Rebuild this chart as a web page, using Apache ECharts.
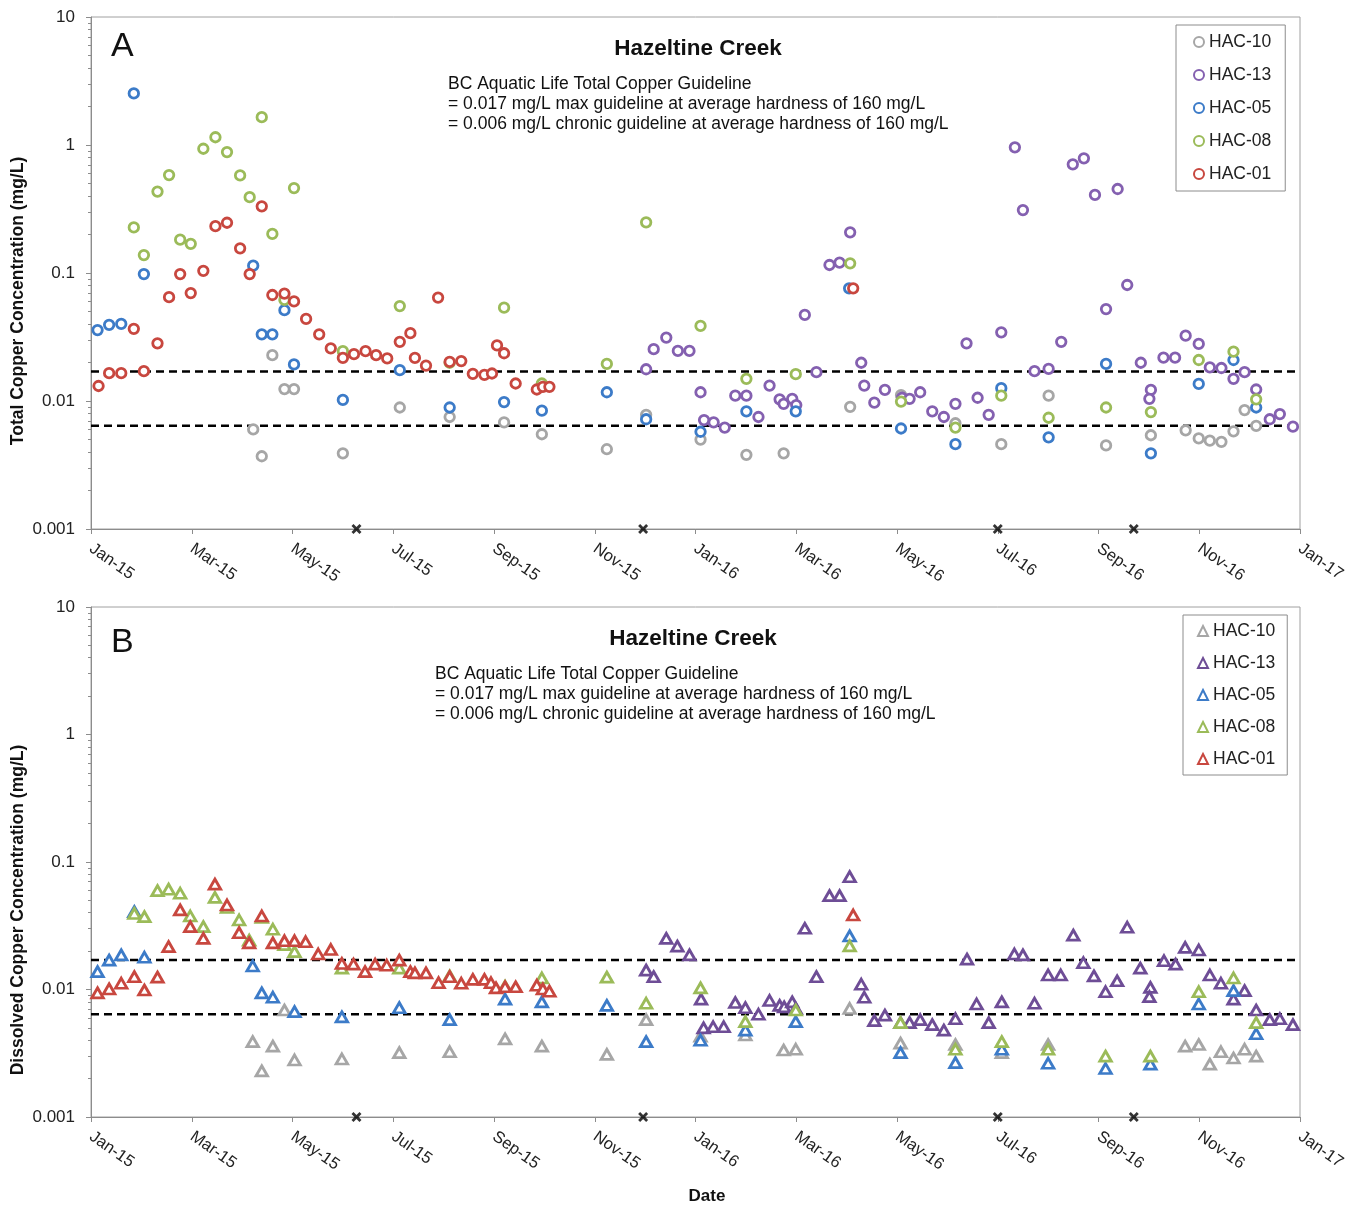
<!DOCTYPE html>
<html>
<head>
<meta charset="utf-8">
<script src="https://cdn.jsdelivr.net/npm/echarts@6/dist/echarts.min.js"></script>
<style>
html,body{margin:0;padding:0;background:#fff}
#main{width:1361px;height:1206px}
</style>
</head>
<body>
<div id="main"></div>
<script>
// x = month index (0 = Jan 2015, 24 = Jan 2017), fraction = day in month
var xTickLabels = ['Jan-15','Mar-15','May-15','Jul-15','Sep-15','Nov-15','Jan-16','Mar-16','May-16','Jul-16','Sep-16','Nov-16','Jan-17'];
var yTickLabels = ['0.001','0.01','0.1','1','10'];
var guideMax = 0.017;
var guideChronic = 0.0064;
var eventMonths = [5.27, 10.96, 18.0, 20.7];
var stations = ['HAC-10','HAC-13','HAC-05','HAC-08','HAC-01'];
var colorsA = ['#a6a6a6','#8460b0','#3c7bc8','#9bbb59','#c8473f'];
var colorsB = ['#a6a6a6','#6e4d96','#3c7bc8','#9bbb59','#c8473f'];

// Panel A - total copper (mg/L)
var total_HAC10 = [[3.22,0.0060],[3.39,0.0037],[3.60,0.0228],[3.84,0.0124],[4.03,0.0124],[5.00,0.0039],[6.13,0.0089],[7.12,0.0075],[8.20,0.0068],[8.95,0.0055],[10.24,0.0042],[11.02,0.0078],[12.10,0.0050],[13.01,0.0038],[13.75,0.0039],[15.07,0.0090],[16.08,0.0111],[17.16,0.0067],[18.07,0.0046],[19.01,0.0110],[20.15,0.0045],[21.04,0.0054],[21.73,0.0059],[21.99,0.0051],[22.21,0.0049],[22.44,0.0048],[22.68,0.0058],[22.90,0.0085],[23.13,0.0064]];
var total_HAC13 = [[11.02,0.0177],[11.17,0.0254],[11.42,0.0313],[11.65,0.0246],[11.88,0.0246],[12.10,0.0117],[12.17,0.0071],[12.36,0.0068],[12.58,0.0062],[12.79,0.0110],[13.01,0.0110],[13.25,0.0075],[13.47,0.0132],[13.67,0.0103],[13.75,0.0095],[13.92,0.0104],[14.00,0.0093],[14.17,0.047],[14.40,0.0168],[14.66,0.1155],[14.86,0.1205],[15.07,0.208],[15.29,0.0199],[15.35,0.0132],[15.55,0.0097],[15.76,0.0122],[16.10,0.0106],[16.25,0.0104],[16.46,0.0117],[16.70,0.0083],[16.93,0.0075],[17.16,0.0095],[17.38,0.0282],[17.60,0.0106],[17.82,0.0078],[18.07,0.0344],[18.34,0.959],[18.50,0.310],[18.73,0.0171],[19.01,0.0178],[19.26,0.029],[19.49,0.706],[19.71,0.787],[19.93,0.407],[20.15,0.0523],[20.38,0.453],[20.57,0.0806],[20.84,0.0199],[21.04,0.0122],[21.01,0.0104],[21.29,0.0218],[21.52,0.0218],[21.73,0.0324],[21.99,0.0279],[22.21,0.0183],[22.44,0.0181],[22.68,0.0149],[22.90,0.0168],[23.13,0.0123],[23.40,0.0072],[23.60,0.0079],[23.86,0.0063]];
var total_HAC05 = [[0.13,0.0358],[0.36,0.0394],[0.60,0.040],[0.85,2.53],[1.05,0.098],[3.22,0.114],[3.39,0.0332],[3.60,0.0332],[3.84,0.0512],[4.03,0.0193],[5.00,0.0102],[6.13,0.0174],[7.12,0.0089],[8.20,0.0098],[8.95,0.0084],[10.24,0.0117],[11.02,0.0072],[12.10,0.00575],[13.01,0.0083],[13.99,0.0083],[15.05,0.0759],[16.08,0.0061],[17.16,0.0046],[18.07,0.0126],[19.01,0.0052],[20.15,0.0195],[21.04,0.0039],[21.99,0.0136],[22.68,0.0209],[23.13,0.0089]];
var total_HAC08 = [[0.85,0.227],[1.05,0.138],[1.32,0.433],[1.55,0.582],[1.77,0.182],[1.98,0.169],[2.23,0.935],[2.47,1.15],[2.70,0.88],[2.96,0.578],[3.15,0.391],[3.39,1.65],[3.60,0.202],[3.84,0.0616],[4.03,0.461],[5.00,0.0245],[6.13,0.0552],[7.12,0.0199],[8.20,0.0536],[8.95,0.0137],[10.24,0.0195],[11.02,0.249],[12.10,0.0386],[13.01,0.0149],[13.99,0.0162],[15.07,0.119],[16.08,0.0099],[17.16,0.0062],[18.07,0.0110],[19.01,0.0074],[20.15,0.0089],[21.04,0.0082],[21.99,0.0209],[22.68,0.0243],[23.13,0.0103]];
var total_HAC01 = [[0.15,0.0131],[0.36,0.0165],[0.60,0.0165],[0.85,0.0366],[1.05,0.0171],[1.32,0.0282],[1.55,0.0647],[1.77,0.098],[1.98,0.0697],[2.23,0.104],[2.47,0.232],[2.70,0.247],[2.96,0.156],[3.15,0.098],[3.39,0.332],[3.60,0.0673],[3.84,0.069],[4.03,0.060],[4.27,0.0438],[4.53,0.0332],[4.76,0.0258],[5.00,0.0217],[5.22,0.0232],[5.45,0.0245],[5.66,0.0228],[5.88,0.0215],[6.13,0.029],[6.34,0.0339],[6.43,0.0217],[6.65,0.0189],[6.89,0.0643],[7.12,0.0202],[7.35,0.0205],[7.58,0.0163],[7.81,0.016],[7.96,0.0164],[8.06,0.0272],[8.20,0.0236],[8.43,0.0137],[8.85,0.0123],[8.97,0.0129],[9.10,0.0129],[15.13,0.0759]];

// Panel B - dissolved copper (mg/L)
var diss_HAC10 = [[3.21,0.0039],[3.39,0.0023],[3.61,0.0036],[3.84,0.0069],[4.04,0.0028],[4.98,0.00285],[6.12,0.0032],[7.12,0.00325],[8.22,0.0041],[8.95,0.0036],[10.24,0.0031],[11.02,0.0058],[12.10,0.0043],[12.99,0.0044],[13.75,0.00335],[13.99,0.0034],[15.06,0.0071],[16.07,0.0038],[17.16,0.0037],[18.08,0.0032],[19.00,0.0037],[21.72,0.0036],[21.99,0.0037],[22.21,0.0026],[22.43,0.00325],[22.68,0.0029],[22.90,0.0034],[23.13,0.0030]];
var diss_HAC13 = [[11.02,0.0142],[11.17,0.0126],[11.42,0.0252],[11.64,0.0219],[11.88,0.0187],[12.11,0.0084],[12.16,0.0050],[12.35,0.0051],[12.56,0.0051],[12.79,0.0079],[12.99,0.0072],[13.25,0.0064],[13.47,0.0082],[13.67,0.0075],[13.76,0.0073],[13.92,0.0080],[13.99,0.0071],[14.17,0.0302],[14.40,0.0126],[14.66,0.0545],[14.86,0.0545],[15.06,0.0767],[15.29,0.0110],[15.35,0.0087],[15.55,0.0057],[15.76,0.0063],[16.07,0.0055],[16.25,0.0055],[16.46,0.0058],[16.70,0.0053],[16.93,0.0048],[17.16,0.0059],[17.39,0.0173],[17.58,0.0077],[17.82,0.0055],[18.08,0.0080],[18.33,0.019],[18.50,0.0187],[18.73,0.0078],[19.00,0.0130],[19.25,0.0130],[19.50,0.0267],[19.70,0.0162],[19.91,0.0128],[20.14,0.0096],[20.37,0.0117],[20.57,0.0308],[20.83,0.0147],[21.03,0.0104],[21.01,0.0088],[21.30,0.0168],[21.53,0.0158],[21.72,0.0214],[21.99,0.0204],[22.21,0.0130],[22.43,0.0112],[22.68,0.0084],[22.90,0.0098],[23.13,0.0069],[23.40,0.0058],[23.60,0.0059],[23.86,0.0053]];
var diss_HAC05 = [[0.13,0.0138],[0.36,0.0170],[0.60,0.0187],[0.86,0.0408],[1.06,0.0179],[3.21,0.0153],[3.39,0.0094],[3.61,0.0087],[4.04,0.0067],[4.98,0.0061],[6.12,0.0072],[7.12,0.0058],[8.22,0.0084],[8.95,0.0080],[10.24,0.0075],[11.02,0.0039],[12.10,0.0040],[12.99,0.0048],[13.99,0.0056],[15.06,0.0263],[16.07,0.0032],[17.16,0.00267],[18.08,0.0034],[19.00,0.00264],[20.14,0.0024],[21.03,0.0026],[21.99,0.0077],[22.68,0.0098],[23.13,0.0045]];
var diss_HAC08 = [[0.86,0.0395],[1.06,0.0373],[1.32,0.0596],[1.54,0.0612],[1.77,0.0569],[1.97,0.0377],[2.23,0.0311],[2.46,0.0528],[2.70,0.044],[2.94,0.0351],[3.14,0.0244],[3.39,0.0368],[3.61,0.0297],[3.84,0.0225],[4.04,0.0198],[4.98,0.0147],[6.12,0.0147],[7.12,0.0128],[8.22,0.0106],[8.95,0.0123],[10.24,0.0125],[11.02,0.0078],[12.10,0.0103],[12.99,0.0056],[13.99,0.0069],[15.06,0.022],[16.07,0.0055],[17.16,0.0034],[18.08,0.0039],[19.00,0.0034],[20.14,0.0030],[21.03,0.0030],[21.99,0.0096],[22.68,0.0123],[23.13,0.0055]];
var diss_HAC01 = [[0.13,0.0094],[0.36,0.0101],[0.60,0.0112],[0.86,0.0126],[1.06,0.0099],[1.32,0.0125],[1.54,0.0217],[1.77,0.0421],[1.97,0.0311],[2.23,0.0252],[2.46,0.0671],[2.70,0.046],[2.94,0.0279],[3.14,0.0232],[3.39,0.0377],[3.61,0.0232],[3.84,0.0241],[4.04,0.0241],[4.26,0.0237],[4.51,0.019],[4.76,0.0206],[4.98,0.016],[5.21,0.0158],[5.44,0.0138],[5.64,0.0158],[5.87,0.0155],[6.12,0.0170],[6.34,0.0138],[6.43,0.0135],[6.65,0.0135],[6.90,0.0113],[7.12,0.0126],[7.35,0.0112],[7.58,0.0120],[7.81,0.0120],[7.94,0.0113],[8.04,0.0103],[8.22,0.0105],[8.43,0.0105],[8.85,0.0108],[8.97,0.0101],[9.10,0.0097],[15.13,0.0384]];

var totalData = [total_HAC10, total_HAC13, total_HAC05, total_HAC08, total_HAC01];
var dissData = [diss_HAC10, diss_HAC13, diss_HAC05, diss_HAC08, diss_HAC01];

var font = '"Liberation Sans", Arial, sans-serif';
var yMinorTicks = [];
for (var d = -3; d < 1; d++) {
    for (var k = 2; k <= 9; k++) yMinorTicks.push(k * Math.pow(10, d));
}

function xAxisFor(grid) {
    return {
        type: 'value', gridIndex: grid, min: 0, max: 24, interval: 2,
        axisLine: { lineStyle: { color: '#8c8c8c', width: 1 } },
        axisTick: { length: 5, lineStyle: { color: '#8c8c8c' } },
        splitLine: { show: false },
        axisLabel: {
            rotate: -35, margin: 18, fontSize: 16.5, color: '#222', fontFamily: font,
            showMinLabel: true, showMaxLabel: true,
            formatter: function (v) { return xTickLabels[Math.round(v / 2)]; }
        }
    };
}
function yAxisFor(grid) {
    return {
        type: 'log', logBase: 10, gridIndex: grid, min: 0.001, max: 10,
        axisLine: { show: true, lineStyle: { color: '#8c8c8c', width: 1 } },
        axisTick: { show: true, length: 5, lineStyle: { color: '#8c8c8c' } },
        splitLine: { show: false },
        axisLabel: {
            fontSize: 17, color: '#222', margin: 16, fontFamily: font,
            formatter: function (v) { return yTickLabels[Math.round(Math.log10(v)) + 3]; }
        }
    };
}
function yMinorFor(grid) {
    return {
        type: 'log', logBase: 10, gridIndex: grid, min: 0.001, max: 10, position: 'left',
        axisLine: { show: false },
        axisLabel: { show: false },
        splitLine: { show: false },
        axisTick: { show: true, length: 3, customValues: yMinorTicks, lineStyle: { color: '#8c8c8c' } }
    };
}

function stationSeries(name, data, color, symbol, size, idx) {
    return {
        name: name, type: 'scatter', xAxisIndex: idx, yAxisIndex: idx * 2,
        data: data, symbol: symbol, symbolSize: size, z: 3,
        itemStyle: { color: '#fff', borderColor: color, borderWidth: 2.8, opacity: 1 },
        emphasis: { disabled: true }
    };
}
// dashed guideline drawn from axis min to max
function guideSeries(value, idx) {
    return {
        name: 'guide', type: 'line', xAxisIndex: idx, yAxisIndex: idx * 2,
        data: [[0, value], [24, value]], symbol: 'none', silent: true, z: 2,
        lineStyle: { color: '#000', width: 2.5, type: [8, 5] }
    };
}
function eventSeries(idx) {
    return {
        name: 'events', type: 'scatter', xAxisIndex: idx, yAxisIndex: idx * 2,
        data: eventMonths.map(function (m) { return [m, 0.001]; }),
        symbol: 'path://M2,0 L5,3 L8,0 L10,2 L7,5 L10,8 L8,10 L5,7 L2,10 L0,8 L3,5 L0,2 Z',
        symbolSize: 10, clip: false, z: 10,
        itemStyle: { color: '#000' }
    };
}

var series = [];
[0, 1].forEach(function (idx) {
    series.push(guideSeries(guideMax, idx));
    series.push(guideSeries(guideChronic, idx));
});
stations.forEach(function (s, i) {
    series.push(stationSeries(s, totalData[i], colorsA[i], 'circle', 9.5, 0));
});
stations.forEach(function (s, i) {
    series.push(stationSeries(s + ' ', dissData[i], colorsB[i], 'triangle', [11.5, 10], 1));
});
series.push(eventSeries(0));
series.push(eventSeries(1));

function legendFor(names, left, top, padding, gap) {
    return {
        data: names, orient: 'vertical', left: left, top: top,
        padding: padding, itemGap: gap, itemWidth: 10, itemHeight: 10,
        borderColor: '#8c8c8c', borderWidth: 1, backgroundColor: '#fff',
        selectedMode: false,
        textStyle: { fontSize: 17.5, color: '#222', fontFamily: font, lineHeight: 18 },
        formatter: function (n) { return n.trim(); }
    };
}

var textStyle = { fontFamily: font, fill: '#111' };
var guideText = 'BC Aquatic Life Total Copper Guideline\n= 0.017 mg/L max guideline at average hardness of 160 mg/L\n= 0.006 mg/L chronic guideline at average hardness of 160 mg/L';
var myChart = echarts.init(document.getElementById('main'));
var option = {
    animation: false,
    backgroundColor: '#fff',
    grid: [
        { left: 91, width: 1209, top: 17, height: 512, show: true, borderColor: '#a0a0a0', borderWidth: 1 },
        { left: 91, width: 1209, top: 607, height: 510, show: true, borderColor: '#a0a0a0', borderWidth: 1 }
    ],
    title: [
        { text: 'Hazeltine Creek', left: 693, top: 32, textAlign: 'center',
          textStyle: { fontSize: 22.5, fontWeight: 'bold', color: '#111', fontFamily: font } },
        { text: 'Hazeltine Creek', left: 688, top: 622, textAlign: 'center',
          textStyle: { fontSize: 22.5, fontWeight: 'bold', color: '#111', fontFamily: font } }
    ],
    legend: [
        legendFor(stations, 1176, 25, [8, 14, 8, 17], 15),
        legendFor(stations.map(function (s) { return s + ' '; }), 1183, 615, [7, 12, 7, 14], 14)
    ],
    xAxis: [xAxisFor(0), xAxisFor(1)],
    yAxis: [yAxisFor(0), yMinorFor(0), yAxisFor(1), yMinorFor(1)],
    series: series,
    graphic: [
        { type: 'text', left: 111, top: 30, style: Object.assign({ text: 'A', fontSize: 34 }, textStyle) },
        { type: 'text', left: 111, top: 626, style: Object.assign({ text: 'B', fontSize: 34 }, textStyle) },
        { type: 'text', left: 448, top: 74, style: Object.assign({ fontSize: 17.5, lineHeight: 20, text: guideText }, textStyle) },
        { type: 'text', left: 435, top: 664, style: Object.assign({ fontSize: 17.5, lineHeight: 20, text: guideText }, textStyle) },
        { type: 'text', x: 18, y: 301, rotation: Math.PI / 2,
          style: Object.assign({ text: 'Total Copper Concentration (mg/L)', fontSize: 17.5, fontWeight: 'bold', align: 'center', verticalAlign: 'middle' }, textStyle) },
        { type: 'text', x: 18, y: 910, rotation: Math.PI / 2,
          style: Object.assign({ text: 'Dissolved Copper Concentration (mg/L)', fontSize: 17.5, fontWeight: 'bold', align: 'center', verticalAlign: 'middle' }, textStyle) },
        { type: 'text', x: 707, y: 1196,
          style: Object.assign({ text: 'Date', fontSize: 17, fontWeight: 'bold', align: 'center', verticalAlign: 'middle' }, textStyle) }
    ]
};
myChart.setOption(option);
</script>
</body>
</html>
